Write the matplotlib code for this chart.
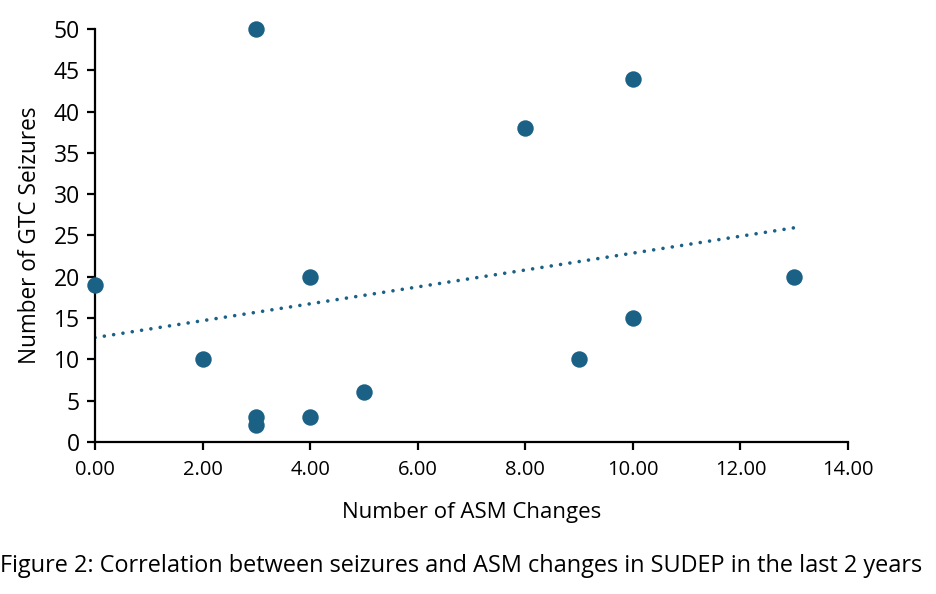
import numpy as np
import matplotlib
matplotlib.use("Agg")
import matplotlib.pyplot as plt

plt.rcParams['font.family'] = ['Open Sans', 'DejaVu Sans']

asm_changes = [0, 2, 3, 3, 3, 4, 4, 5, 8, 9, 10, 10, 13]
gtc_seizures = [19, 10, 50, 3, 2, 20, 3, 6, 38, 10, 44, 15, 20]
x_ticks = [0, 2, 4, 6, 8, 10, 12, 14]
y_ticks = [0, 5, 10, 15, 20, 25, 30, 35, 40, 45, 50]

color = '#1a6185'

fig = plt.figure(figsize=(9.36, 5.94), dpi=100)
ax = fig.add_axes([0.1015, 0.2559, 0.8045, 0.6953])

ax.scatter(asm_changes, gtc_seizures, s=140, color=color, zorder=3, clip_on=False, linewidths=0)

slope, intercept = np.polyfit(asm_changes, gtc_seizures, 1)
xs = np.array([min(asm_changes), max(asm_changes)])
ax.plot(xs, slope * xs + intercept, color=color, linewidth=2.6,
        linestyle=(0, (0.01, 2.6)), dash_capstyle='round', zorder=2)

ax.set_xlim(0, 14)
ax.set_ylim(0, 50)
ax.set_xticks(x_ticks)
ax.set_xticklabels([f"{v:.2f}" for v in x_ticks])
ax.set_yticks(y_ticks)

for s in ['top', 'right']:
    ax.spines[s].set_visible(False)
for s in ['left', 'bottom']:
    ax.spines[s].set_linewidth(1.6)
    ax.spines[s].set_color('black')
ax.tick_params(axis='both', direction='out', length=6, width=1.6, colors='black')
ax.tick_params(axis='y', labelsize=16.5, pad=5)
ax.tick_params(axis='x', labelsize=14.5, pad=7)

ax.set_xlabel('Number of ASM Changes', fontsize=16, labelpad=16)
ax.set_ylabel('Number of GTC Seizures', fontsize=16.3, labelpad=8)

fig.text(0.0, 0.047, 'Figure 2: Correlation between seizures and ASM changes in SUDEP in the last 2 years',
         fontsize=16.9, ha='left', va='center')

fig.savefig('out.png', dpi=100)
